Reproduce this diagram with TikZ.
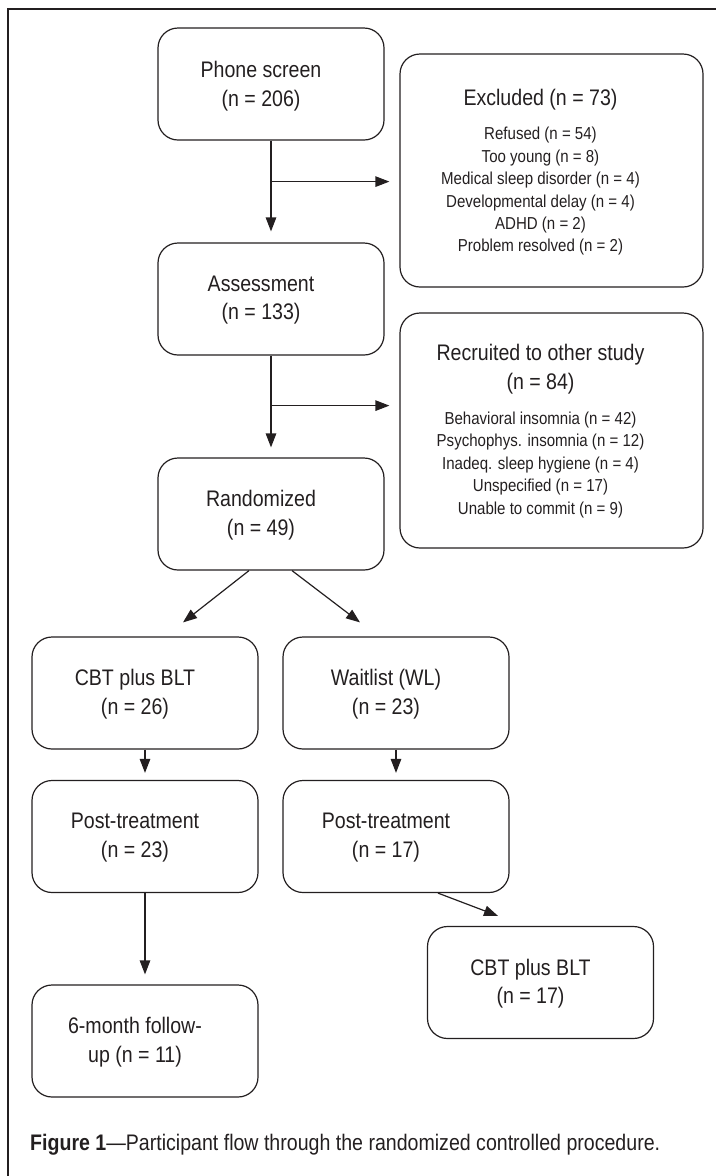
\documentclass[tikz,border=0pt]{standalone}
\usepackage{fontspec}
\setmainfont{Liberation Sans}[FakeStretch=0.87]
\usetikzlibrary{arrows.meta,calc}
\definecolor{ink}{HTML}{231F20}
\newcommand\bxfont{\fontsize{22.5bp}{28.5bp}\selectfont}
\newcommand\lsfont{\fontsize{17.3bp}{22.4bp}\selectfont}
\newcommand\cpfont{\fontsize{22.5bp}{28bp}\selectfont}
\begin{document}
\begin{tikzpicture}[x=1bp,y=-1bp,
  box/.style={draw=ink, line width=1.2bp, rounded corners=20bp, minimum width=226bp, minimum height=112bp, inner sep=0pt},
  bigbox/.style={box, minimum width=303bp},
  txt/.style={align=center, font=\bxfont, text=ink, inner sep=0pt},
  lst/.style={align=center, font=\lsfont, text=ink, inner sep=0pt},
  conn/.style={draw=ink, line width=1.2bp, -{Triangle[length=14bp,width=10.5bp]}},
  frameline/.style={draw=ink, line width=1.2bp}
]
\useasboundingbox (0,0) rectangle (716,1176);
\draw[frameline] (8,1176) -- (8,9) -- (716,9);

% main column
\node[box] (phone) at (271,84) {};
\node[txt] (phoneT) at ($(phone)+(-10,2)$) {Phone screen\\(n = 206)};
\node[box] (assess) at (271,299) {};
\node[txt] (assessT) at ($(assess)+(-10,1)$) {Assessment\\(n = 133)};
\node[box] (rand) at (271,514) {};
\node[txt] (randT) at ($(rand)+(-10,1)$) {Randomized\\(n = 49)};

% side boxes
\node[bigbox, minimum height=233bp] (excl) at (551.5,170.5) {};
\node[txt] (exclT) at ($(excl.north)+(-11,46)$) {Excluded (n = 73)};
\node[lst] (exclL) at ($(excl.north)+(-11,138)$) {Refused (n = 54)\\Too young (n = 8)\\Medical sleep disorder (n = 4)\\Developmental delay (n = 4)\\ADHD (n = 2)\\Problem resolved (n = 2)};
\node[bigbox, minimum height=235bp] (recr) at (551.5,430.5) {};
\node[txt] (recrT) at ($(recr.north)+(-11,57)$) {Recruited to other study\\(n = 84)};
\node[lst] (recrL) at ($(recr.north)+(-11,152.5)$) {Behavioral insomnia (n = 42)\\Psychophys. insomnia (n = 12)\\Inadeq. sleep hygiene (n = 4)\\Unspecified (n = 17)\\Unable to commit (n = 9)};

% arms
\node[box] (cbtL) at (145,693) {};
\node[txt] (cbtLT) at ($(cbtL)+(-10,1)$) {CBT plus BLT\\(n = 26)};
\node[box] (wait) at (396,693) {};
\node[txt] (waitT) at ($(wait)+(-10,1)$) {Waitlist (WL)\\(n = 23)};
\node[box] (postL) at (145,836.5) {};
\node[txt] (postLT) at ($(postL)+(-10,1)$) {Post-treatment\\(n = 23)};
\node[box] (postR) at (396,836.5) {};
\node[txt] (postRT) at ($(postR)+(-10,1)$) {Post-treatment\\(n = 17)};
\node[box] (cbtR) at (540.5,982.5) {};
\node[txt] (cbtRT) at ($(cbtR)+(-10,1)$) {CBT plus BLT\\(n = 17)};
\node[box] (six) at (145,1041) {};
\node[txt] (sixT) at ($(six)+(-10,1)$) {6-month follow-\\up (n = 11)};

% connectors
\draw[conn, shorten >=11bp] (phone.south) -- (assess.north);
\coordinate (b1) at ($(phone.south)+(0,41)$);
\draw[conn, shorten >=10bp] (b1) -- (b1 -| excl.west);
\draw[conn, shorten >=10bp] (assess.south) -- (rand.north);
\coordinate (b2) at ($(assess.south)+(0,50)$);
\draw[conn, shorten >=10bp] (b2) -- (b2 -| recr.west);
\draw[conn] ($(rand.south)+(-22,0)$) -- ($(cbtL.north)+(38,-14)$);
\draw[conn] ($(rand.south)+(21,0)$) -- ($(wait.north)+(-36,-14)$);
\draw[conn, shorten >=7bp] (cbtL.south) -- (postL.north);
\draw[conn, shorten >=7bp] (wait.south) -- (postR.north);
\draw[conn, shorten >=10bp] (postL.south) -- (six.north);
\draw[conn] ($(postR.south)+(42,0)$) -- ($(cbtR.north)+(-42.5,-10)$);

% caption
\node[anchor=base west, font=\cpfont, text=ink, inner sep=0pt] (cap) at (30,1150) {\textbf{Figure 1}—Participant flow through the randomized controlled procedure.};
\end{tikzpicture}
\end{document}
